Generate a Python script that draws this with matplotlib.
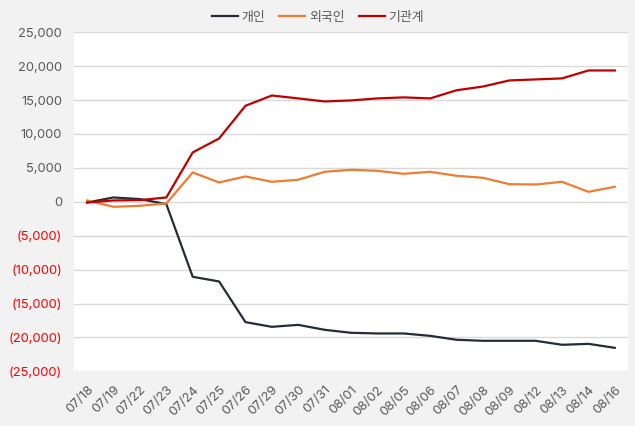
import matplotlib
matplotlib.use("Agg")
import matplotlib.pyplot as plt
from matplotlib.ticker import FuncFormatter, MultipleLocator

plt.rcParams['font.family'] = ['Inter', 'Noto Sans CJK KR', 'DejaVu Sans']

dates = ["07/18", "07/19", "07/22", "07/23", "07/24", "07/25", "07/26", "07/29", "07/30",
         "07/31", "08/01", "08/02", "08/05", "08/06", "08/07", "08/08", "08/09", "08/12",
         "08/13", "08/14", "08/16"]
individual = [-100, 640, 400, -340, -11060, -11750, -17750, -18440, -18150,
              -18880, -19320, -19420, -19420, -19770, -20350, -20500, -20500, -20500,
              -21090, -20950, -21540]
foreign = [200, -740, -590, -250, 4330, 2850, 3740, 2950, 3250,
           4425, 4720, 4570, 4130, 4425, 3835, 3540, 2600, 2550,
           2950, 1475, 2210]
institution = [-100, 200, 250, 640, 7280, 9340, 14160, 15680, 15250,
               14800, 14950, 15250, 15400, 15250, 16450, 17000, 17900, 18050,
               18200, 19370, 19370]
series_names = ["개인", "외국인", "기관계"]

fig = plt.figure(figsize=(6.35, 4.26), dpi=100, facecolor="#f2f2f2")
ax = fig.add_axes([74/635, 1-371.3/426, (628-74)/635, (371.3-32.3)/426])
ax.set_facecolor("white")

x = list(range(len(dates)))
ax.plot(x, individual, color="#252b37", lw=1.6, label=series_names[0])
ax.plot(x, foreign, color="#ed7d31", lw=1.6, label=series_names[1])
ax.plot(x, institution, color="#c00000", lw=1.6, label=series_names[2])

ax.set_xlim(-0.5, len(dates) - 0.5)
ax.set_ylim(-25000, 25000)
ax.yaxis.set_major_locator(MultipleLocator(5000))
ax.grid(axis="y", color="#d9d9d9", lw=1)
ax.set_axisbelow(True)
for s in ax.spines.values():
    s.set_visible(False)

def fmt(v, pos):
    v = int(round(v))
    if v < 0:
        return "({:,})".format(-v)
    return "{:,}".format(v)

ax.yaxis.set_major_formatter(FuncFormatter(fmt))
ax.tick_params(axis="y", length=0, pad=8.5, labelsize=9.3, labelcolor="#595959")
for lbl, val in zip(ax.get_yticklabels(), ax.get_yticks()):
    if val < 0:
        lbl.set_color("#ff0000")

ax.set_xticks(x)
ax.set_xticklabels(dates, rotation=45, ha="right", rotation_mode="anchor")
ax.tick_params(axis="x", length=0, pad=9, labelsize=9.3, labelcolor="#595959")

leg = fig.legend(loc="center", bbox_to_anchor=(318/635, 1-18/426), ncol=3, frameon=False,
                 fontsize=9.3, handlelength=2.0, columnspacing=1.1, handletextpad=0.3)
for t in leg.get_texts():
    t.set_color("#595959")

fig.savefig("out.png", dpi=100, facecolor=fig.get_facecolor())
